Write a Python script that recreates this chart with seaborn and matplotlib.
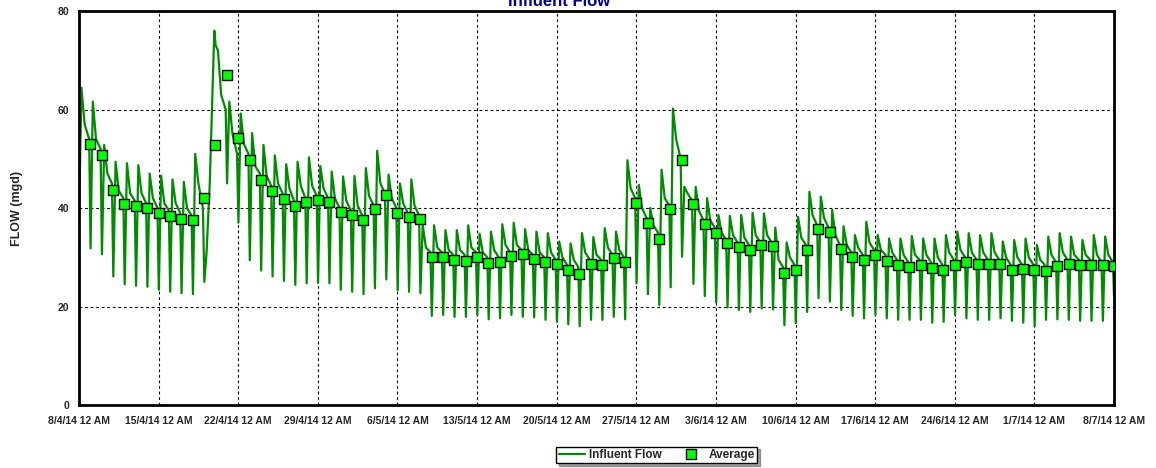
import numpy as np
import pandas as pd
import seaborn as sns
import matplotlib.pyplot as plt
import matplotlib.ticker as mticker
from matplotlib.lines import Line2D

# Influent flow (mgd), four readings per day, 8/4/14 .. 7/7/14
flow_night = [40.0, 31.8, 30.6, 26.1, 24.5, 24.2, 24.0, 23.4, 23.0, 22.7,
              22.5, 25.0, 73.0, 45.0, 37.0, 29.4, 27.3, 26.1, 25.2, 24.4,
              24.7, 24.8, 24.7, 23.4, 23.0, 22.5, 23.7, 25.5, 23.3, 23.0,
              22.7, 18.1, 18.3, 17.9, 17.9, 18.3, 17.4, 17.6, 18.3, 17.9,
              17.8, 17.3, 16.9, 16.4, 16.0, 17.3, 17.3, 17.9, 17.4, 24.7,
              22.5, 20.3, 23.9, 30.1, 24.6, 22.1, 20.8, 19.8, 19.3, 18.9,
              19.6, 19.4, 16.2, 16.6, 18.9, 21.7, 21.0, 19.3, 18.1, 17.6,
              18.3, 17.6, 17.3, 17.3, 17.3, 16.7, 16.9, 18.3, 17.6, 17.3,
              17.3, 17.6, 17.1, 16.7, 16.0, 17.3, 17.4, 17.3, 17.1, 17.1,
              17.1]
flow_morning = [64.4, 61.6, 52.8, 49.4, 49.1, 48.7, 47.0, 46.6, 45.8, 45.3,
                51.0, 31.0, 72.0, 61.6, 59.2, 55.2, 52.8, 50.7, 48.9, 49.4,
                50.3, 48.5, 47.4, 46.4, 46.5, 48.1, 51.6, 46.8, 45.0, 45.8,
                36.5, 36.5, 35.5, 35.5, 36.5, 34.8, 35.2, 36.7, 37.0, 35.7,
                35.2, 34.9, 33.2, 32.8, 34.9, 34.1, 35.9, 35.2, 49.7, 44.7,
                40.0, 47.8, 60.2, 44.3, 44.3, 42.0, 38.6, 38.4, 38.6, 39.0,
                38.9, 36.0, 33.0, 38.2, 43.3, 42.3, 39.6, 36.3, 34.5, 37.2,
                34.5, 33.8, 33.8, 34.3, 33.8, 33.8, 34.5, 35.2, 34.9, 34.5,
                34.9, 33.2, 33.5, 33.8, 32.5, 34.2, 34.9, 34.2, 33.5, 34.5,
                34.2]
flow_midday = [57.0, 54.0, 47.0, 43.5, 43.0, 43.0, 42.0, 41.0, 41.0, 40.0,
               45.0, 45.0, 63.0, 55.0, 53.0, 48.5, 46.5, 45.0, 44.0, 44.5,
               44.5, 44.0, 42.0, 41.5, 40.5, 42.5, 45.0, 42.0, 41.0, 40.5,
               32.0, 32.0, 31.5, 31.5, 32.0, 31.0, 31.5, 32.5, 32.5, 31.5,
               31.0, 31.0, 30.0, 29.5, 31.0, 30.5, 32.0, 31.5, 44.0, 40.0,
               36.5, 42.0, 54.0, 43.0, 39.5, 37.5, 35.0, 34.5, 34.0, 34.5,
               34.5, 29.5, 30.0, 34.0, 38.5, 38.0, 34.5, 32.5, 32.0, 33.0,
               31.5, 31.0, 30.5, 30.5, 30.5, 30.0, 31.0, 31.5, 31.0, 31.0,
               31.0, 30.0, 30.0, 30.0, 29.5, 30.5, 31.0, 30.5, 30.5, 30.5,
               30.5]
flow_evening = [54.0, 52.0, 45.0, 42.0, 41.5, 41.0, 40.0, 39.5, 39.0, 38.5,
                40.0, 76.0, 60.0, 51.0, 51.0, 47.0, 44.5, 43.0, 41.5, 42.0,
                42.5, 42.0, 40.0, 39.5, 38.5, 40.5, 43.0, 40.0, 39.0, 38.5,
                31.0, 31.0, 30.5, 30.5, 31.0, 30.0, 30.0, 31.0, 31.5, 30.5,
                30.0, 29.5, 28.5, 28.0, 29.5, 29.5, 30.5, 30.0, 42.0, 38.0,
                35.0, 40.5, 50.0, 41.5, 37.5, 36.0, 33.5, 33.0, 32.5, 33.0,
                33.0, 28.0, 28.5, 32.5, 36.5, 36.0, 32.5, 31.0, 30.5, 31.5,
                30.5, 29.5, 29.0, 29.5, 29.0, 28.5, 29.5, 30.0, 29.5, 29.5,
                29.5, 28.5, 28.5, 28.5, 28.5, 29.0, 29.5, 29.5, 29.5, 29.0,
                29.0]
flow_end = 22.0

# daily average, plotted at the end of each day
daily_avg = [53.0, 50.8, 43.7, 40.9, 40.5, 40.1, 38.9, 38.4, 37.8, 37.5,
             42.1, 52.7, 67.1, 54.2, 49.7, 45.6, 43.5, 41.9, 40.5, 41.2,
             41.6, 41.2, 39.1, 38.6, 37.6, 39.7, 42.6, 38.9, 38.2, 37.8,
             30.1, 30.1, 29.4, 29.3, 30.1, 28.9, 29.1, 30.3, 30.7, 29.6,
             29.1, 28.6, 27.5, 26.7, 28.7, 28.4, 29.8, 29.0, 41.0, 37.0,
             33.8, 39.7, 49.8, 40.9, 36.8, 34.9, 32.8, 32.1, 31.5, 32.4,
             32.2, 26.9, 27.5, 31.5, 35.8, 35.1, 31.7, 30.0, 29.4, 30.5,
             29.3, 28.5, 28.0, 28.4, 27.9, 27.4, 28.4, 29.1, 28.7, 28.7,
             28.7, 27.5, 27.7, 27.5, 27.3, 28.2, 28.7, 28.4, 28.4, 28.4,
             28.2]

start = pd.Timestamp("2014-04-08")
end = pd.Timestamp("2014-07-08")
n_days = len(daily_avg)

# reading times within a day (fraction of day)
read_times = [0.02, 0.22, 0.5, 0.9]

times, flows = [], []
for k in range(n_days):
    for frac, series in zip(read_times,
                            [flow_night, flow_morning, flow_midday, flow_evening]):
        times.append(start + pd.Timedelta(days=k + frac))
        flows.append(series[k])
times.append(end)
flows.append(flow_end)
df_flow = pd.DataFrame({"time": times, "flow": flows})

df_avg = pd.DataFrame({"time": [start + pd.Timedelta(days=k + 1) for k in range(n_days)],
                       "avg": daily_avg})

sns.set_style("white")
plt.rcParams["font.family"] = ["Liberation Sans", "DejaVu Sans"]
plt.rcParams["font.weight"] = "bold"

line_col = "#008c00"
fig = plt.figure(figsize=(11.56, 4.68), dpi=100)
ax = fig.add_axes([0.0683, 0.1346, 0.8954, 0.8419])

sns.lineplot(data=df_flow, x="time", y="flow", ax=ax, color=line_col,
             linewidth=1.6, sort=False, estimator=None, legend=False)
sns.scatterplot(data=df_avg, x="time", y="avg", ax=ax, marker="s", s=52,
                color="#00ff00", edgecolor="black", linewidth=1.0, zorder=5,
                legend=False)

ax.set_xlim(start, end)
ax.set_ylim(0, 80)
ax.set_yticks([0, 20, 40, 60, 80])
ax.yaxis.set_minor_locator(mticker.MultipleLocator(5))

week_ticks = pd.date_range(start, end, freq="7D")
ax.set_xticks(week_ticks)
ax.set_xticklabels([f"{d.day}/{d.month}/{d.strftime('%y')} 12 AM" for d in week_ticks])
ax.set_xticks(pd.date_range(start, end, freq="42h"), minor=True)

ax.tick_params(axis="both", which="major", length=5, width=1.2, labelsize=7.5,
               direction="out", color="black")
ax.tick_params(axis="both", which="minor", length=3, width=1.0, direction="out",
               color="black")
ax.tick_params(axis="y", pad=2)
ax.tick_params(axis="x", pad=3)
for lab in ax.get_xticklabels() + ax.get_yticklabels():
    lab.set_fontweight("bold")

ax.grid(True, which="major", linestyle=(0, (2.5, 2.5)), color="black", linewidth=0.8)
for sp in ax.spines.values():
    sp.set_color("black")
    sp.set_linewidth(2)

ax.set_xlabel("")
ax.set_ylabel("FLOW (mgd)", fontsize=9, fontweight="bold", labelpad=25)

fig.text(0.484, 0.997, "Influent Flow", ha="center", va="center", fontsize=12,
         fontweight="bold", color="#000099")

handles = [Line2D([0], [0], color=line_col, linewidth=1.6),
           Line2D([0], [0], marker="s", linestyle="none", markersize=7,
                  markerfacecolor="#00ff00", markeredgecolor="black")]
leg = fig.legend(handles, ["Influent Flow", "Average"], loc="center",
                 bbox_to_anchor=(0.568, 0.028), ncol=2, frameon=True,
                 fancybox=False, shadow=True, edgecolor="black",
                 prop={"size": 8.5, "weight": "bold"}, handlelength=2.2,
                 handletextpad=0.4, columnspacing=1.3, borderpad=0.2)
leg.get_frame().set_linewidth(1.0)

fig.savefig("out.png", dpi=100)
